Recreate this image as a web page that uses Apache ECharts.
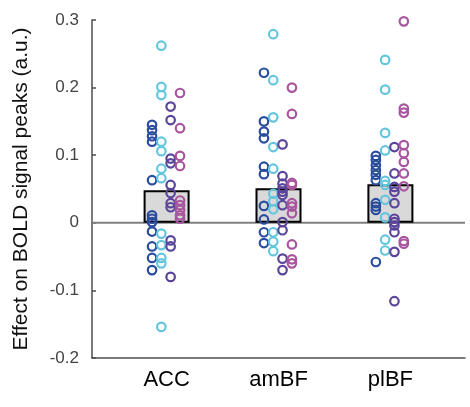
<!DOCTYPE html>
<html>
<head>
<meta charset="utf-8">
<script src="https://cdn.jsdelivr.net/npm/echarts@6/dist/echarts.min.js"></script>
<style>
  html, body { margin: 0; padding: 0; background: #fff; }
  #chart { width: 470px; height: 407px; }
</style>
</head>
<body>
<div id="chart"></div>
<script>
// ---- data ----
const categories = ['ACC', 'amBF', 'plBF'];
const barMeans = [0.048, 0.051, 0.057];
const yTicks = [-0.2, -0.1, 0, 0.1, 0.2, 0.3];

// per-group values, one list per category (ACC, amBF, plBF)
const darkBlue = [
  [0.145, 0.137, 0.128, 0.120, 0.063, 0.011, 0.006, 0.001, -0.013, -0.035, -0.052, -0.070],
  [0.222, 0.150, 0.135, 0.125, 0.083, 0.072, 0.025, 0.005, -0.014, -0.030],
  [0.099, 0.093, 0.085, 0.078, 0.071, 0.063, 0.029, 0.024, 0.019, -0.058]
];
const cyan = [
  [0.262, 0.201, 0.189, 0.120, 0.106, 0.080, 0.066, -0.016, -0.033, -0.052, -0.060, -0.154],
  [0.279, 0.211, 0.156, 0.112, 0.080, 0.043, 0.032, 0.020, -0.014, -0.028, -0.042],
  [0.241, 0.197, 0.133, 0.107, 0.062, 0.056, 0.034, 0.008, -0.025, -0.041]
];
const purple = [
  [0.172, 0.152, 0.095, 0.088, 0.056, 0.044, 0.029, 0.023, -0.026, -0.035, -0.080],
  [0.116, 0.069, 0.058, 0.051, 0.046, 0.041, 0.026, 0.001, -0.011, -0.053, -0.070],
  [0.112, 0.073, 0.053, 0.046, 0.029, 0.006, 0.001, -0.004, -0.014, -0.043, -0.116]
];
const magenta = [
  [0.192, 0.140, 0.099, 0.084, 0.033, 0.026, 0.019, 0.011, 0.006],
  [0.200, 0.161, 0.059, 0.056, 0.029, 0.024, 0.014, -0.032, -0.054, -0.060],
  [0.298, 0.169, 0.163, 0.115, 0.103, 0.090, 0.073, 0.054, -0.027, -0.031]
];

// ---- styling / layout ----
const groups = [
  { vals: darkBlue, color: '#2a4c9e', offset: -0.13 },
  { vals: cyan,     color: '#64c6de', offset: -0.047 },
  { vals: purple,   color: '#5b449b', offset: 0.036 },
  { vals: magenta,  color: '#a8559f', offset: 0.12 }
];
const X_MIN = 1 / 3, X_MAX = 11 / 3;
const FONT = '"Liberation Sans", Arial, Helvetica, sans-serif';

const scatterSeries = groups.map(function (g, gi) {
  const data = [];
  g.vals.forEach(function (list, ci) {
    list.forEach(function (v) { data.push([ci + 1 + g.offset, v]); });
  });
  return {
    type: 'scatter',
    name: 'g' + gi,
    data: data,
    symbol: 'circle',
    symbolSize: 8.5,
    itemStyle: { color: 'rgba(0,0,0,0)', borderColor: g.color, borderWidth: 2.2, opacity: 1 },
    emphasis: { disabled: true },
    z: 5
  };
});

const chart = echarts.init(document.getElementById('chart'), null, { renderer: 'canvas' });
chart.setOption({
  animation: false,
  backgroundColor: '#ffffff',
  grid: { left: 92, right: 5, top: 20, bottom: 49, containLabel: false },
  xAxis: {
    type: 'value',
    min: X_MIN,
    max: X_MAX,
    axisLine: { show: true, onZero: false, lineStyle: { color: '#4d4d4d', width: 1.5 } },
    axisTick: { show: false },
    splitLine: { show: false },
    axisLabel: {
      show: true,
      customValues: [1, 2, 3],
      formatter: function (v) { return categories[Math.round(v) - 1] || ''; },
      color: '#000000',
      fontFamily: FONT,
      fontSize: 22,
      margin: 11
    }
  },
  yAxis: {
    type: 'value',
    min: -0.2,
    max: 0.3,
    interval: 0.1,
    name: 'Effect on BOLD signal peaks (a.u.)',
    nameLocation: 'middle',
    nameGap: 60,
    nameTextStyle: { color: '#111111', fontFamily: FONT, fontSize: 21 },
    axisLine: { show: true, onZero: false, lineStyle: { color: '#4d4d4d', width: 1.5 } },
    axisTick: { show: true, inside: true, length: 4, lineStyle: { color: '#4d4d4d', width: 1.5 } },
    splitLine: { show: false },
    axisLabel: {
      color: '#444444',
      fontFamily: FONT,
      fontSize: 17,
      margin: 13,
      formatter: function (v) {
        const r = Math.round(v * 10) / 10;
        const t = yTicks.find(function (k) { return Math.abs(k - r) < 1e-9; });
        return t === 0 ? '0' : t.toFixed(1);
      }
    }
  },
  series: [
    {
      type: 'line',
      data: [[X_MIN, 0], [X_MAX, 0]],
      symbol: 'none',
      lineStyle: { color: '#808080', width: 2 },
      emphasis: { disabled: true },
      z: 1
    },
    {
      type: 'bar',
      data: barMeans.map(function (v, i) { return [i + 1, v]; }),
      barWidth: 46,
      itemStyle: { color: '#d9d9d9', borderColor: '#000000', borderWidth: 2 },
      emphasis: { disabled: true },
      z: 2
    }
  ].concat(scatterSeries)
});
</script>
</body>
</html>
